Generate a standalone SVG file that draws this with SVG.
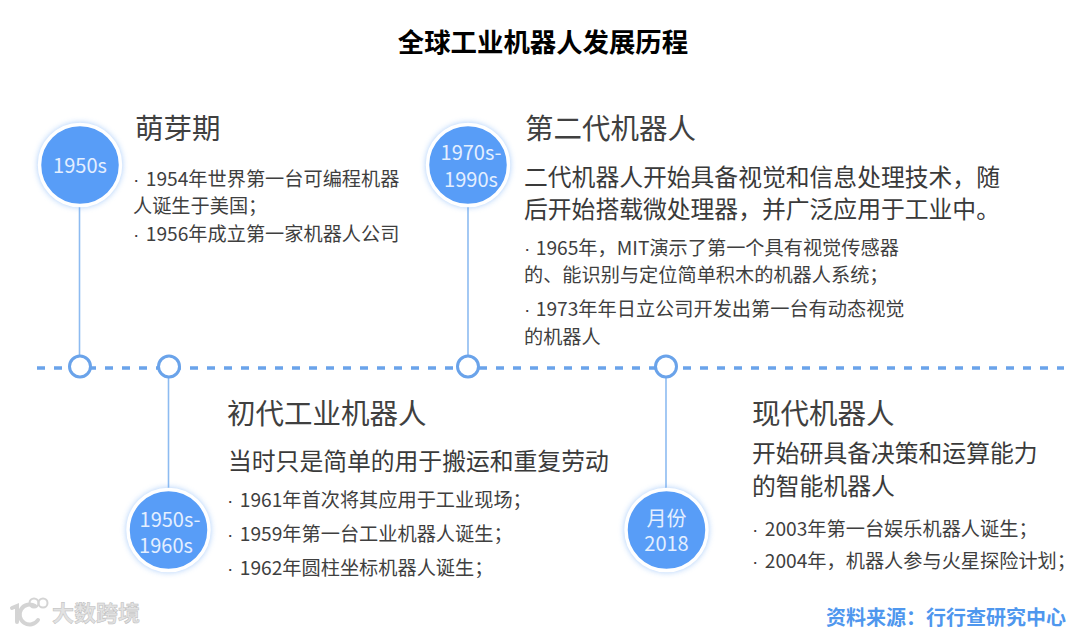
<svg xmlns="http://www.w3.org/2000/svg" width="1080" height="632" viewBox="0 0 1080 632">
<defs>
<style>
text{font-family:"Noto Sans CJK SC","Noto Sans",sans-serif;fill:#3a3a3a}
.title{font-size:26.400px;font-weight:700;fill:#000}
.h{font-size:28.500px;fill:#404040}
.s{font-size:23.800px;fill:#3a3a3a}
.b{font-size:19.200px;fill:#3f3f3f}
.d{font-family:"Liberation Sans",sans-serif}
.y{font-size:20px;fill:#e4efff;text-anchor:middle}
.big{fill:#589df7;stroke:#fff;stroke-width:3.500}
.halo{fill:#559bf6;opacity:.55}
.dot{fill:#fff;stroke:#6aa3ea;stroke-width:3}
.stem{stroke:#8dbbf1;stroke-width:1.600;fill:none}
.src{font-size:20px;font-weight:700;fill:#4f97ee}
.wm{font-size:22px;font-weight:700;fill:#e2e2e2;stroke:#bdbdbd;stroke-width:.5}
</style>
<filter id="glow" x="-30%" y="-30%" width="160%" height="160%"><feGaussianBlur stdDeviation="3"/></filter>
</defs>
<rect width="1080" height="632" fill="#fff"/>
<text class="title" x="543" y="52" text-anchor="middle">全球工业机器人发展历程</text>
<g id="connectors">
<line x1="37" y1="368" x2="1064" y2="368" stroke="#6aa3ea" stroke-width="3.500" stroke-dasharray="8 9"/>
<line class="stem" x1="79.500" y1="205" x2="79.500" y2="356"/>
<line class="stem" x1="468" y1="205" x2="468" y2="356"/>
<line class="stem" x1="168.500" y1="378" x2="168.500" y2="490"/>
<line class="stem" x1="666" y1="378" x2="666" y2="490"/>
</g>
<g id="dot-1"><circle class="dot" cx="80" cy="366.500" r="10.500"/></g>
<g id="dot-2"><circle class="dot" cx="169" cy="366.500" r="10.500"/></g>
<g id="dot-3"><circle class="dot" cx="468" cy="366.500" r="10.500"/></g>
<g id="dot-4"><circle class="dot" cx="666" cy="366.500" r="10.500"/></g>
<g id="node-1950s">
<circle class="halo" cx="80" cy="165" r="42" filter="url(#glow)"/>
<circle class="big" cx="80" cy="165" r="40.500"/>
<text class="y" x="80" y="173">1950s</text>
</g>
<g id="node-1970s">
<circle class="halo" cx="468" cy="165" r="42" filter="url(#glow)"/>
<circle class="big" cx="468" cy="165" r="40.500"/>
<text class="y" x="471" y="160">1970s-</text>
<text class="y" x="471" y="187">1990s</text>
</g>
<g id="node-1950s-1960s">
<circle class="halo" cx="168.500" cy="530" r="42" filter="url(#glow)"/>
<circle class="big" cx="168.500" cy="530" r="40.500"/>
<text class="y" x="170" y="527">1950s-</text>
<text class="y" x="166" y="553">1960s</text>
</g>
<g id="node-2018">
<circle class="halo" cx="666.500" cy="530" r="42" filter="url(#glow)"/>
<circle class="big" cx="666.500" cy="530" r="40.500"/>
<text class="y" x="666.500" y="526">月份</text>
<text class="y" x="666.500" y="551">2018</text>
</g>
<g id="text-1">
<text class="h" x="135" y="139">萌芽期</text>
<text class="b" x="133" y="185.500"><tspan class="d">· </tspan><tspan dx="1">1954年世界第一台可编程机器</tspan></text>
<text class="b" x="133" y="212.500">人诞生于美国；</text>
<text class="b" x="133" y="241"><tspan class="d">· </tspan><tspan dx="1">1956年成立第一家机器人公司</tspan></text>
</g>
<g id="text-2">
<text class="h" x="525" y="139">第二代机器人</text>
<text class="s" x="524" y="186">二代机器人开始具备视觉和信息处理技术，随</text>
<text class="s" x="524" y="218">后开始搭载微处理器，并广泛应用于工业中。</text>
<text class="b" x="524" y="255"><tspan class="d">· </tspan>1965年，MIT演示了第一个具有视觉传感器</text>
<text class="b" x="524" y="282">的、能识别与定位简单积木的机器人系统；</text>
<text class="b" x="524" y="316"><tspan class="d">· </tspan>1973年年日立公司开发出第一台有动态视觉</text>
<text class="b" x="524" y="344">的机器人</text>
</g>
<g id="text-3">
<text class="h" x="227" y="424">初代工业机器人</text>
<text class="s" x="228" y="470">当时只是简单的用于搬运和重复劳动</text>
<text class="b" x="227" y="507"><tspan class="d">· </tspan><tspan dx="1">1961年首次将其应用于工业现场；</tspan></text>
<text class="b" x="227" y="541"><tspan class="d">· </tspan><tspan dx="1">1959年第一台工业机器人诞生；</tspan></text>
<text class="b" x="227" y="575"><tspan class="d">· </tspan><tspan dx="1">1962年圆柱坐标机器人诞生；</tspan></text>
</g>
<g id="text-4">
<text class="h" x="752" y="424">现代机器人</text>
<text class="s" x="752" y="462">开始研具备决策和运算能力</text>
<text class="s" x="752" y="495">的智能机器人</text>
<text class="b" x="752" y="536"><tspan class="d">· </tspan><tspan dx="1">2003年第一台娱乐机器人诞生；</tspan></text>
<text class="b" x="752" y="568"><tspan class="d">· </tspan><tspan dx="1">2004年，机器人参与火星探险计划；</tspan></text>
</g>
<text class="src" x="826" y="625">资料来源：行行查研究中心</text>
<g id="watermark">
<g fill="none" stroke="#d4d4d4" stroke-width="4" stroke-linecap="round">
<path d="M12 608l5-2v16"/>
<path d="M35 606a10 10 0 1 0 3 14"/>
<circle cx="34" cy="603" r="4.500" stroke-width="2"/>
<circle cx="43" cy="603" r="4.500" stroke-width="2"/>
</g>
<text class="wm" x="52" y="621">大数跨境</text>
</g>
</svg>
